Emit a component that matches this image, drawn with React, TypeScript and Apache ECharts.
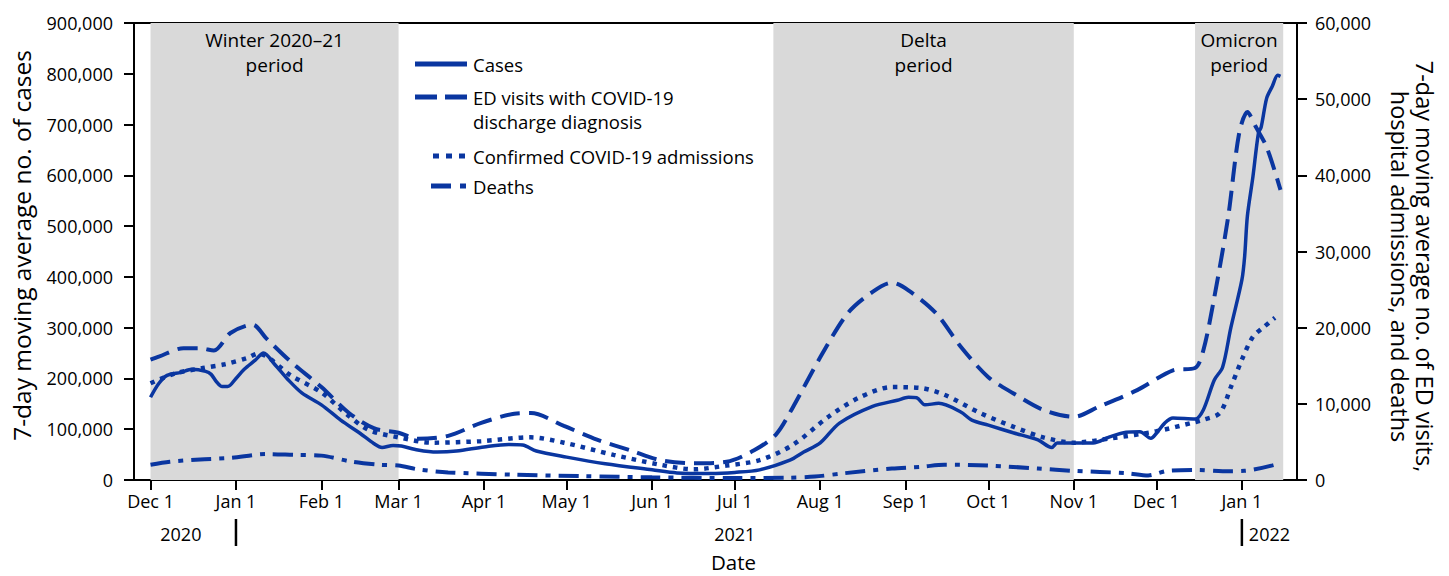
import React, { useEffect, useRef } from 'react';
import * as echarts from 'echarts';

const FONT = '"Open Sans", "Noto Sans", sans-serif';
const BLUE = '#0a36a0';
const SHADE = '#d9d9d9';
const MONTHS = ['Jan', 'Feb', 'Mar', 'Apr', 'May', 'Jun', 'Jul', 'Aug', 'Sep', 'Oct', 'Nov', 'Dec'];

// Axis range (daily categories)
const AXIS_START = '2020-11-25';
const AXIS_END = '2022-01-21';

// Year labels on the lower axis row
const YEAR_LABEL_DATES = ['2020-12-12', '2021-07-01', '2022-01-11'];
const YEAR_LABELS = ['2020', '2021', '2022'];
const YEAR_BREAKS = ['2021-01-01', '2022-01-01'];

// Shaded periods
const PERIOD_NAMES = ['Winter 2020–21\nperiod', 'Delta\nperiod', 'Omicron\nperiod'];
const PERIOD_STARTS = ['2020-12-01', '2021-07-15', '2021-12-15'];
const PERIOD_ENDS = ['2021-03-01', '2021-11-01', '2022-01-16'];

// Cases (left axis)
const CASE_DATES = [
  '2020-12-01', '2020-12-04', '2020-12-07', '2020-12-12', '2020-12-16', '2020-12-21', '2020-12-23', '2020-12-25',
  '2020-12-27', '2020-12-29', '2021-01-01', '2021-01-04', '2021-01-08', '2021-01-11', '2021-01-15', '2021-01-20',
  '2021-01-25', '2021-02-01', '2021-02-08', '2021-02-15', '2021-02-20', '2021-02-23', '2021-02-27', '2021-03-02',
  '2021-03-08', '2021-03-15', '2021-03-22', '2021-04-01', '2021-04-10', '2021-04-15', '2021-04-20', '2021-05-01',
  '2021-05-15', '2021-06-01', '2021-06-10', '2021-06-22', '2021-07-01', '2021-07-10', '2021-07-21', '2021-07-26',
  '2021-08-01', '2021-08-08', '2021-08-20', '2021-08-29', '2021-09-02', '2021-09-05', '2021-09-08', '2021-09-13',
  '2021-09-21', '2021-09-25', '2021-10-01', '2021-10-10', '2021-10-19', '2021-10-24', '2021-10-26', '2021-11-01',
  '2021-11-08', '2021-11-14', '2021-11-20', '2021-11-25', '2021-11-29', '2021-12-01', '2021-12-04', '2021-12-07',
  '2021-12-15', '2021-12-18', '2021-12-22', '2021-12-25', '2021-12-28', '2022-01-01', '2022-01-02', '2022-01-03',
  '2022-01-05', '2022-01-07', '2022-01-08', '2022-01-10', '2022-01-12', '2022-01-14', '2022-01-15',
];
const CASE_VALUES = [
  163000, 190000, 206000, 212000, 218000, 214000, 208000, 193000,
  184000, 184000, 200000, 218000, 236000, 250000, 228000, 197000,
  171000, 148000, 118000, 92000, 72000, 64000, 68000, 67000,
  59000, 55000, 57000, 65000, 70000, 69000, 57000, 45000,
  32000, 20000, 14000, 13000, 15000, 20000, 39000, 55000,
  73000, 112000, 145000, 157000, 163000, 162000, 148000, 151000,
  134000, 118000, 108000, 93000, 79000, 64000, 73000, 73000,
  73000, 85000, 94000, 95000, 82000, 92000, 112000, 122000,
  120000, 138000, 197000, 222000, 300000, 394000, 440000, 520000,
  597000, 683000, 695000, 752000, 775000, 797000, 795000,
];

// ED visits (right axis)
const ED_DATES = [
  '2020-12-01', '2020-12-04', '2020-12-13', '2020-12-19', '2020-12-24', '2020-12-30', '2021-01-07', '2021-01-12',
  '2021-01-21', '2021-02-01', '2021-02-11', '2021-02-20', '2021-03-01', '2021-03-08', '2021-03-19', '2021-03-31',
  '2021-04-12', '2021-04-18', '2021-04-30', '2021-05-12', '2021-05-24', '2021-06-04', '2021-06-16', '2021-06-28',
  '2021-07-08', '2021-07-16', '2021-07-22', '2021-08-01', '2021-08-11', '2021-08-20', '2021-08-27', '2021-09-02',
  '2021-09-12', '2021-09-21', '2021-10-01', '2021-10-10', '2021-10-21', '2021-11-01', '2021-11-10', '2021-11-24',
  '2021-12-07', '2021-12-15', '2021-12-18', '2021-12-22', '2021-12-27', '2021-12-31', '2022-01-03', '2022-01-06',
  '2022-01-10', '2022-01-15',
];
const ED_VALUES = [
  15800, 16200, 17300, 17300, 17000, 19300, 20400, 18600,
  15500, 12200, 8800, 6800, 6200, 5400, 5800, 7500,
  8700, 8800, 7100, 5300, 3900, 2600, 2200, 2400,
  3900, 6000, 9500, 16100, 21900, 24700, 25900, 24900,
  21900, 17500, 13500, 11400, 9200, 8300, 9600, 11800,
  14400, 14700, 17000, 24000, 34500, 45500, 48300, 46400,
  43700, 38100,
];

// Confirmed COVID-19 admissions (right axis)
const ADM_DATES = [
  '2020-12-01', '2020-12-10', '2020-12-20', '2020-12-28', '2021-01-05', '2021-01-09', '2021-01-21', '2021-02-01',
  '2021-02-10', '2021-02-18', '2021-03-01', '2021-03-13', '2021-03-31', '2021-04-18', '2021-04-30', '2021-05-18',
  '2021-06-04', '2021-06-16', '2021-06-28', '2021-07-10', '2021-07-22', '2021-08-04', '2021-08-15', '2021-08-27',
  '2021-09-06', '2021-09-15', '2021-09-28', '2021-10-10', '2021-10-21', '2021-11-01', '2021-11-15', '2021-12-01',
  '2021-12-15', '2021-12-18', '2021-12-24', '2021-12-28', '2022-01-01', '2022-01-05', '2022-01-09', '2022-01-13',
];
const ADM_VALUES = [
  12700, 14000, 14700, 15200, 16000, 16600, 13700, 11500,
  8700, 6600, 5600, 4900, 5100, 5600, 4900, 3300,
  2000, 1400, 1900, 2600, 4600, 8300, 10800, 12200,
  12100, 11200, 8800, 7000, 5600, 4900, 5500, 6400,
  7600, 7900, 8800, 12200, 15800, 18800, 20100, 21300,
];

// Deaths (right axis)
const DEATH_DATES = [
  '2020-12-01', '2020-12-08', '2020-12-19', '2020-12-30', '2021-01-12', '2021-01-22', '2021-02-01', '2021-02-12',
  '2021-02-22', '2021-03-01', '2021-03-08', '2021-03-19', '2021-04-12', '2021-05-07', '2021-06-01', '2021-07-01',
  '2021-07-20', '2021-07-30', '2021-08-10', '2021-08-27', '2021-09-07', '2021-09-15', '2021-10-01', '2021-10-19',
  '2021-11-01', '2021-11-20', '2021-11-28', '2021-12-05', '2021-12-16', '2021-12-25', '2022-01-02', '2022-01-13',
];
const DEATH_VALUES = [
  2000, 2400, 2700, 2900, 3400, 3300, 3200, 2400,
  2000, 1900, 1400, 1000, 700, 500, 350, 250,
  300, 450, 900, 1500, 1750, 2000, 1900, 1500,
  1200, 900, 600, 1200, 1300, 1150, 1200, 2000,
];

function buildDays(start: string, end: string): string[] {
  const out: string[] = [];
  const s = Date.parse(start + 'T00:00:00Z');
  const e = Date.parse(end + 'T00:00:00Z');
  for (let t = s; t <= e; t += 86400000) {
    out.push(new Date(t).toISOString().slice(0, 10));
  }
  return out;
}

function pairs(dates: string[], values: number[]) {
  return dates.map((d, i) => [d, values[i]]);
}

const fmt = (v: number) => v.toLocaleString('en-US');

export default function App() {
  const ref = useRef<HTMLDivElement>(null);

  useEffect(() => {
    if (!ref.current) return;
    const chart = echarts.init(ref.current, undefined, { renderer: 'svg' });
    const days = buildDays(AXIS_START, AXIS_END);
    const txt = { color: '#000', fontFamily: FONT, fontSize: 18 };
    const legTxt = { fill: '#000', fontFamily: FONT, fontSize: 18.5, align: 'left' };

    const lineBase = { type: 'line', showSymbol: false, symbol: 'none', smooth: 0.3, z: 3 };

    const legendGraphics: any[] = [
      { type: 'line', shape: { x1: 415, y1: 64, x2: 467, y2: 64 }, style: { stroke: BLUE, lineWidth: 5 } },
      { type: 'text', x: 473, y: 64, style: { ...legTxt, text: 'Cases', verticalAlign: 'middle' } },
      { type: 'line', shape: { x1: 415, y1: 97, x2: 467, y2: 97 }, style: { stroke: BLUE, lineWidth: 5, lineDash: [22, 8] } },
      { type: 'text', x: 473, y: 85, style: { ...legTxt, text: 'ED visits with COVID-19\ndischarge diagnosis', lineHeight: 24, verticalAlign: 'top' } },
      { type: 'line', shape: { x1: 433, y1: 156, x2: 466, y2: 156 }, style: { stroke: BLUE, lineWidth: 5, lineDash: [6, 7] } },
      { type: 'text', x: 473, y: 156, style: { ...legTxt, text: 'Confirmed COVID-19 admissions', verticalAlign: 'middle' } },
      { type: 'line', shape: { x1: 431, y1: 186, x2: 466, y2: 186 }, style: { stroke: BLUE, lineWidth: 5, lineDash: [20, 9, 6, 9] } },
      { type: 'text', x: 473, y: 186, style: { ...legTxt, text: 'Deaths', verticalAlign: 'middle' } },
    ];

    const option: any = {
      animation: false,
      backgroundColor: '#fff',
      textStyle: { fontFamily: FONT },
      grid: {
        left: 134, right: 152, top: 23, bottom: 96,
        outerBoundsMode: 'none', containLabel: false,
        show: true, borderColor: '#000', borderWidth: 2, backgroundColor: 'transparent',
      },
      xAxis: [
        {
          type: 'category', data: days, boundaryGap: false,
          name: 'Date', nameLocation: 'middle', nameGap: 71,
          nameTextStyle: { ...txt, fontSize: 20.5, padding: [0, 0, 0, 36] },
          axisLine: { show: true, lineStyle: { color: '#000', width: 2 } },
          axisTick: { show: true, length: 10, interval: (_i: number, v: string) => v.endsWith('-01'), lineStyle: { color: '#000', width: 2 } },
          axisLabel: {
            ...txt, margin: 12,
            interval: (_i: number, v: string) => v.endsWith('-01'),
            formatter: (v: string) => MONTHS[parseInt(v.slice(5, 7), 10) - 1] + ' 1',
          },
          splitLine: { show: false },
        },
        {
          type: 'category', data: days, boundaryGap: false, position: 'bottom', offset: 39,
          axisLine: { show: false },
          axisTick: { show: false },
          axisLabel: {
            ...txt, margin: 6,
            interval: (_i: number, v: string) => YEAR_LABEL_DATES.includes(v),
            formatter: (v: string) => YEAR_LABELS[YEAR_LABEL_DATES.indexOf(v)] ?? '',
          },
          splitLine: { show: false },
        },
      ],
      yAxis: [
        {
          type: 'value', min: 0, max: 900000, interval: 100000, position: 'left',
          name: '7-day moving average no. of cases', nameLocation: 'middle', nameGap: 100, nameRotate: 90,
          nameTextStyle: { ...txt, fontSize: 24.5, padding: [0, 0, 0, 12] },
          axisLine: { show: true, lineStyle: { color: '#000', width: 2 } },
          axisTick: { show: true, length: 10, lineStyle: { color: '#000', width: 2 } },
          axisLabel: { ...txt, margin: 21, formatter: fmt },
          splitLine: { show: false },
        },
        {
          type: 'value', min: 0, max: 60000, interval: 10000, position: 'right',
          name: '7-day moving average no. of ED visits,\nhospital admissions, and deaths',
          nameLocation: 'middle', nameGap: 90, nameRotate: -90,
          nameTextStyle: { ...txt, fontSize: 23.5, lineHeight: 25, padding: [0, 0, 0, 30] },
          axisLine: { show: true, lineStyle: { color: '#000', width: 2 } },
          axisTick: { show: true, length: 10, lineStyle: { color: '#000', width: 2 } },
          axisLabel: { ...txt, margin: 18, formatter: fmt },
          splitLine: { show: false },
        },
      ],
      series: [
        {
          ...lineBase, name: 'Deaths', yAxisIndex: 1,
          data: pairs(DEATH_DATES, DEATH_VALUES),
          lineStyle: { color: BLUE, width: 4, type: [20, 8, 5, 8], cap: 'butt' },
          markArea: {
            silent: true,
            itemStyle: { color: SHADE },
            label: { show: true, position: 'insideTop', distance: 4, ...txt, fontSize: 19, lineHeight: 25 },
            data: PERIOD_NAMES.map((n, i) => [
              { name: n, xAxis: PERIOD_STARTS[i] },
              { xAxis: PERIOD_ENDS[i] },
            ]),
            z: 1,
          },
        },
        {
          ...lineBase, name: 'Confirmed COVID-19 admissions', yAxisIndex: 1,
          data: pairs(ADM_DATES, ADM_VALUES),
          lineStyle: { color: BLUE, width: 4.5, type: [4.5, 6], cap: 'butt' },
        },
        {
          ...lineBase, name: 'ED visits with COVID-19 discharge diagnosis', yAxisIndex: 1,
          data: pairs(ED_DATES, ED_VALUES),
          lineStyle: { color: BLUE, width: 4, type: [20, 9], cap: 'butt' },
        },
        {
          ...lineBase, name: 'Cases', yAxisIndex: 0,
          data: pairs(CASE_DATES, CASE_VALUES),
          lineStyle: { color: BLUE, width: 3.5, type: 'solid' },
        },
      ],
      graphic: legendGraphics,
    };

    chart.setOption(option);

    // Year separator bars below the axis, placed through the category axis scale
    const bars = YEAR_BREAKS.map((d) => {
      const x = chart.convertToPixel({ xAxisIndex: 0 }, d) as number;
      return {
        type: 'line',
        shape: { x1: x, y1: 519, x2: x, y2: 546 },
        style: { stroke: '#000', lineWidth: 2.5 },
      };
    });
    chart.setOption({ graphic: [...legendGraphics, ...bars] });

    return () => chart.dispose();
  }, []);

  return (
    <div
      ref={ref}
      style={{ position: 'fixed', left: 0, top: 0, width: 1449, height: 576, background: '#fff' }}
    />
  );
}
